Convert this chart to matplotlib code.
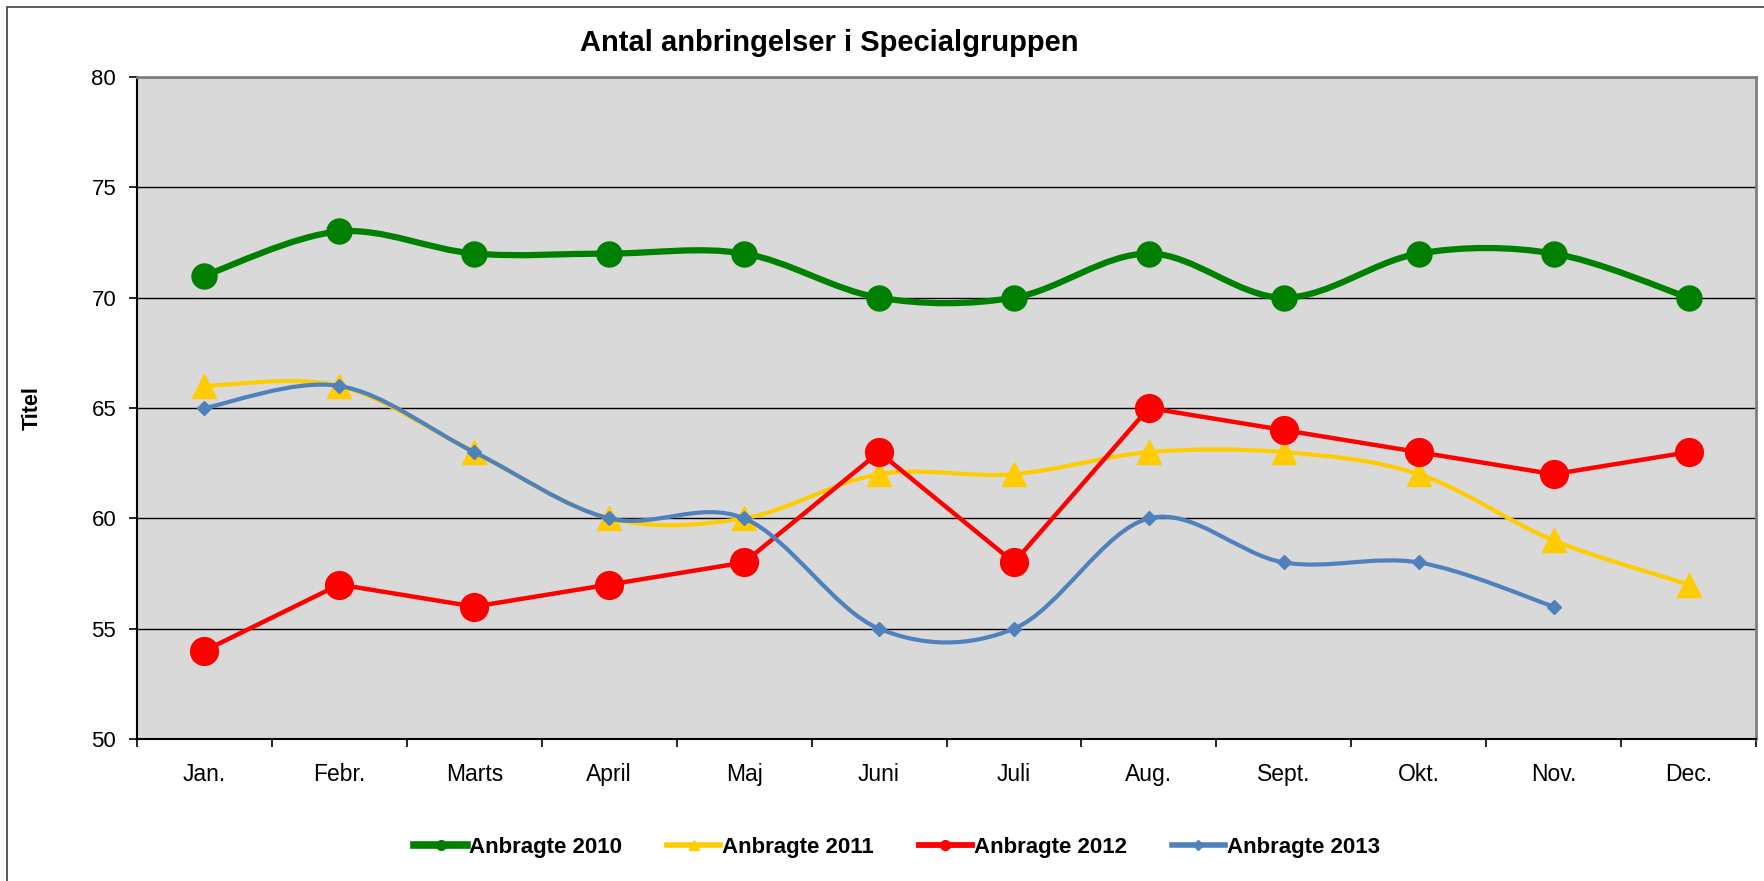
import numpy as np
import matplotlib
matplotlib.use("Agg")
import matplotlib.pyplot as plt
from matplotlib.path import Path
from matplotlib.patches import PathPatch, Rectangle
from matplotlib.lines import Line2D

plt.rcParams['font.family'] = ['Liberation Sans', 'DejaVu Sans']

months = ["Jan.", "Febr.", "Marts", "April", "Maj", "Juni", "Juli",
          "Aug.", "Sept.", "Okt.", "Nov.", "Dec."]
v2010 = [71, 73, 72, 72, 72, 70, 70, 72, 70, 72, 72, 70]
v2011 = [66, 66, 63, 60, 60, 62, 62, 63, 63, 62, 59, 57]
v2012 = [54, 57, 56, 57, 58, 63, 58, 65, 64, 63, 62, 63]
v2013 = [65, 66, 63, 60, 60, 55, 55, 60, 58, 58, 56]

series = [
    ("Anbragte 2010", v2010, "#008000", 4.5, "o", 18, True),
    ("Anbragte 2011", v2011, "#FFCC00", 3.0, "^", 17, True),
    ("Anbragte 2012", v2012, "#FF0000", 3.2, "o", 20, False),
    ("Anbragte 2013", v2013, "#4F81BD", 3.0, "D", 7, True),
]


def smooth_path(x, y):
    # Excel-style smoothed line: Catmull-Rom segments as cubic Beziers
    p = np.column_stack([x, y]).astype(float)
    n = len(p)
    verts = [p[0]]
    codes = [Path.MOVETO]
    for i in range(n - 1):
        p0 = p[i - 1] if i > 0 else p[i]
        p3 = p[i + 2] if i + 2 < n else p[i + 1]
        c1 = p[i] + (p[i + 1] - p0) / 6.0
        c2 = p[i + 1] - (p3 - p[i]) / 6.0
        verts += [c1, c2, p[i + 1]]
        codes += [Path.CURVE4] * 3
    return Path(verts, codes)


fig = plt.figure(figsize=(17.64, 8.81), dpi=100)
ax = fig.add_axes([137 / 1764, 1 - 739 / 881, (1756 - 137) / 1764, (739 - 77) / 881])
ax.set_facecolor("#D9D9D9")

for i, (label, vals, color, lw, marker, ms, smooth) in enumerate(series):
    x = np.arange(len(vals))
    z = 3 + i
    if smooth:
        ax.add_patch(PathPatch(smooth_path(x, vals), facecolor="none",
                               edgecolor=color, lw=lw, zorder=z,
                               capstyle="round", joinstyle="round"))
    else:
        ax.plot(x, vals, color=color, lw=lw, zorder=z, solid_capstyle="round")
    ax.plot(x, vals, linestyle="none", marker=marker, markersize=ms,
            color=color, markeredgecolor=color, zorder=z)

ax.set_xlim(-0.5, 11.5)
ax.set_ylim(50, 80)
ax.set_yticks(range(50, 81, 5))
ax.set_xticks(range(12))
ax.set_xticklabels(months)
ax.set_xticks(np.arange(-0.5, 12, 1), minor=True)
ax.tick_params(axis="x", which="major", length=0, pad=17, labelsize=16.5)
ax.tick_params(axis="x", which="minor", length=6, width=1.2, direction="out")
ax.tick_params(axis="y", length=6, width=1.2, direction="out", pad=9, labelsize=16)
ax.yaxis.grid(True, color="#000000", lw=1.0)
ax.set_axisbelow(True)
for s in ["top", "right"]:
    ax.spines[s].set_color("#808080")
    ax.spines[s].set_linewidth(2.0)
for s in ["left", "bottom"]:
    ax.spines[s].set_color("#000000")
    ax.spines[s].set_linewidth(1.5)

ax.set_ylabel("Titel", fontsize=15.5, fontweight="bold")
ax.yaxis.set_label_coords(-0.058, 0.5)

fig.text(829 / 1764, 1 - 43 / 881, "Antal anbringelser i Specialgruppen",
         ha="center", va="center", fontsize=21, fontweight="bold")

handles = [Line2D([], [], color=c, lw=lw + 1, marker=m, markersize=7 if m != "D" else 5)
           for (_, _, c, lw, m, _, _) in series]
fig.legend(handles, [s[0] for s in series], loc="center",
           bbox_to_anchor=(897 / 1764, 1 - 847 / 881), ncol=4, frameon=False,
           prop={"size": 16, "weight": "bold"}, handlelength=2.4,
           handletextpad=0.1, columnspacing=2.0)

fig.add_artist(Rectangle((7 / 1764, -0.1), 1.2, 1 - 7 / 881 + 0.1,
                         transform=fig.transFigure, fill=False,
                         edgecolor="#404040", lw=1.2))

fig.savefig("out.png", dpi=100)
